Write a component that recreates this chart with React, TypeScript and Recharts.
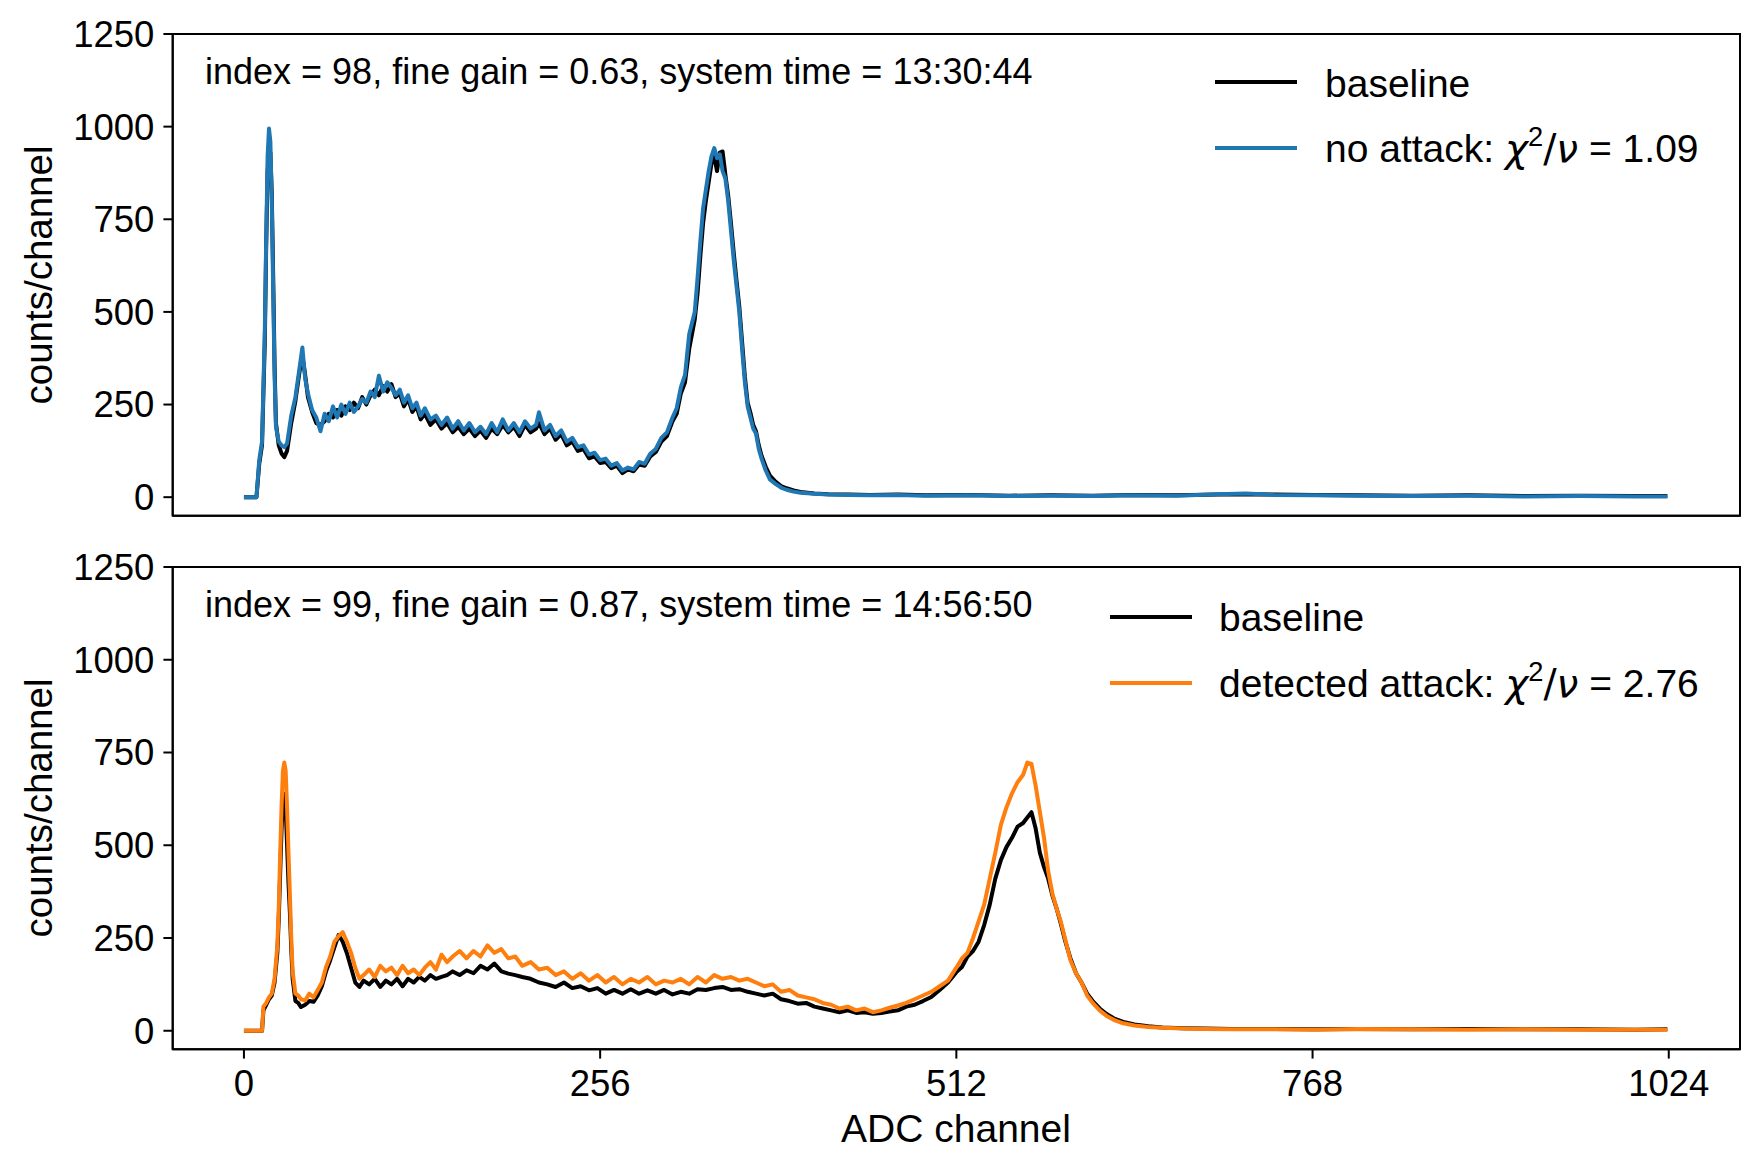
import { LineChart, Line, XAxis, YAxis, ReferenceArea } from 'recharts';

// channel positions (denser where the spectrum moves fast)
const TOP_CH = [
    0, 9, 11, 13, 15, 16, 17, 18, 19, 20,
    21, 22, 23, 25, 27, 29, 31, 34, 37, 40,
    42, 44, 46, 49, 52, 55, 58, 61, 64, 67,
    70, 73, 76, 79, 82, 85, 88, 91, 94, 97,
    100, 103, 106, 109, 112, 115, 118, 121, 124, 127,
    130, 134, 138, 142, 146, 150, 154, 158, 162, 166,
    170, 174, 178, 182, 186, 190, 194, 198, 202, 206,
    210, 212, 216, 220, 224, 228, 232, 236, 240, 244,
    248, 252, 256, 260, 264, 268, 272, 276, 280, 284,
    288, 292, 296, 300, 304, 308, 311, 314, 317, 320,
    322, 324, 326, 328, 330, 332, 334, 336, 338, 340,
    342, 344, 346, 348, 350, 352, 354, 356, 358, 360,
    362, 364, 366, 368, 370, 372, 375, 378, 382, 386,
    390, 395, 400, 410, 420, 435, 450, 470, 490, 520,
    550, 580, 610, 640, 670, 700, 720, 740, 770, 800,
    840, 880, 920, 960, 1000, 1023,
];

const TOP_BASELINE = [
    0, 0, 90, 140, 420, 680, 880, 925, 930, 820,
    600, 360, 200, 140, 118, 108, 125, 200, 260, 340,
    380, 330, 270, 230, 200, 195, 205, 225, 215, 235,
    220, 245, 235, 255, 240, 270, 250, 275, 290, 275,
    300, 285, 305, 270, 280, 245, 265, 230, 245, 210,
    225, 195, 210, 185, 200, 175, 190, 170, 185, 165,
    180, 160, 185, 170, 195, 175, 190, 165, 195, 175,
    185, 200, 170, 185, 155, 170, 140, 150, 125, 130,
    105, 110, 92, 95, 78, 85, 65, 75, 70, 88,
    85, 110, 122, 150, 165, 205, 225, 280, 310, 400,
    440, 480, 550, 650, 740, 800, 850, 900, 920, 880,
    930, 933, 870, 815, 740, 660, 585, 515, 420, 325,
    255, 228, 195, 178, 140, 112, 82, 58, 42, 30,
    24, 18, 14, 10, 8, 7, 6, 7, 5, 6,
    4, 5, 4, 6, 5, 7, 8, 7, 6, 5,
    4, 5, 3, 4, 3, 3,
];

const TOP_NO_ATTACK = [
    0, 0, 100, 150, 450, 700, 920, 995, 960, 800,
    560, 330, 190, 150, 140, 135, 145, 220, 270, 350,
    404, 320, 280, 235, 215, 178, 225, 205, 245, 215,
    250, 225, 255, 230, 245, 265, 255, 285, 270, 328,
    285, 310, 295, 275, 290, 255, 275, 240, 255, 220,
    240, 210, 220, 195, 215, 185, 205, 180, 200, 175,
    190, 170, 200, 175, 210, 180, 200, 175, 205, 185,
    195, 229, 180, 195, 165, 180, 150, 160, 135, 140,
    115, 120, 100, 104, 85, 92, 72, 80, 75, 95,
    90, 117, 130, 160, 175, 215, 240, 296, 330, 440,
    470, 500, 592, 690, 780, 830, 880, 920, 942, 915,
    925, 880, 860, 800, 720, 640, 570, 500, 400, 310,
    245, 215, 185, 172, 130, 104, 72, 48, 36, 26,
    20, 15, 12, 9, 7, 6, 5, 6, 4, 5,
    3, 4, 3, 5, 4, 8, 10, 6, 5, 4,
    3, 4, 2, 3, 2, 2,
];

const BOT_CH = [
    0, 13, 14, 16, 18, 20, 22, 24, 25, 26,
    27, 28, 29, 30, 31, 32, 33, 34, 35, 37,
    39, 41, 44, 47, 50, 53, 56, 59, 62, 65,
    68, 71, 74, 77, 80, 83, 86, 90, 94, 98,
    102, 106, 110, 114, 118, 122, 126, 130, 134, 138,
    142, 146, 150, 155, 160, 165, 170, 175, 180, 185,
    190, 195, 200, 206, 212, 218, 224, 230, 236, 242,
    248, 254, 260, 266, 272, 278, 284, 290, 296, 302,
    308, 314, 320, 326, 332, 338, 344, 350, 356, 362,
    368, 374, 380, 386, 392, 398, 404, 410, 416, 422,
    428, 434, 440, 446, 452, 458, 464, 470, 476, 482,
    488, 494, 500, 506, 512, 516, 520, 524, 528, 532,
    536, 540, 544, 548, 552, 556, 560, 563, 566, 569,
    572, 575, 578, 581, 584, 587, 590, 594, 598, 602,
    606, 610, 615, 620, 626, 632, 640, 650, 660, 675,
    690, 710, 740, 770, 800, 840, 880, 920, 960, 1000,
    1023,
];

const BOT_BASELINE = [
    0, 0, 55, 70, 85, 95, 130, 210, 300, 420,
    540, 620, 638, 600, 500, 400, 320, 220, 140, 80,
    75, 64, 70, 80, 78, 95, 120, 160, 190, 225,
    258, 240, 209, 170, 130, 118, 135, 125, 140, 118,
    135, 125, 140, 120, 140, 130, 145, 135, 150, 140,
    145, 150, 160, 150, 163, 155, 175, 165, 181, 160,
    154, 150, 145, 140, 130, 125, 118, 130, 115, 120,
    109, 115, 100, 110, 100, 112, 100, 109, 100, 110,
    98, 105, 100, 112, 110, 115, 118, 110, 112, 105,
    100, 95, 100, 85, 80, 73, 75, 65, 60, 55,
    50, 55, 48, 50, 46, 48, 52, 55, 65, 70,
    80, 91, 110, 130, 158, 172, 200, 215, 240, 285,
    340, 410, 460, 495, 520, 550, 560, 575, 589, 545,
    480, 441, 410, 365, 330, 290, 245, 195, 155, 130,
    100, 80, 60, 45, 32, 24, 17, 12, 9, 7,
    6, 5, 5, 4, 5, 4, 5, 4, 4, 3,
    4,
];

const BOT_ATTACK = [
    0, 0, 65, 75, 90, 100, 140, 230, 330, 470,
    600, 700, 723, 700, 600, 480, 370, 250, 160, 100,
    95, 85, 82, 100, 90, 110, 130, 172, 200, 240,
    255, 266, 240, 210, 170, 140, 150, 165, 145, 175,
    160, 170, 150, 175, 155, 165, 150, 170, 185, 165,
    205, 185, 200, 215, 195, 215, 200, 230, 210, 220,
    195, 200, 175, 185, 165, 170, 150, 160, 140, 155,
    135, 150, 130, 145, 125, 140, 130, 145, 125, 135,
    130, 140, 125, 145, 130, 150, 140, 145, 135, 140,
    130, 120, 125, 105, 110, 95, 90, 85, 75, 70,
    60, 65, 55, 60, 50, 55, 62, 68, 75, 85,
    95, 105, 120, 135, 170, 195, 210, 250, 295, 340,
    410, 480, 555, 602, 640, 670, 690, 723, 719, 660,
    590, 520, 430, 370, 330, 295, 250, 190, 155, 130,
    95, 75, 55, 40, 28, 20, 14, 10, 8, 6,
    5, 4, 4, 3, 5, 4, 3, 4, 3, 3,
    3,
];

const X_TICKS = [0, 256, 512, 768, 1024];
const Y_TICKS = [0, 250, 500, 750, 1000, 1250];
const X_DOMAIN = [-51.2, 1075.2];
const Y_DOMAIN = [-50, 1250];

const FONT = '"Liberation Sans", Arial, Helvetica, sans-serif';
const MATH = '"DejaVu Sans", sans-serif';
const LW = 4;

const topRows = TOP_CH.map((ch, i) => ({ ch, base: TOP_BASELINE[i], test: TOP_NO_ATTACK[i] }));
const botRows = BOT_CH.map((ch, i) => ({ ch, base: BOT_BASELINE[i], test: BOT_ATTACK[i] }));

const Chi = () => (
    <>
        <span style={{ fontFamily: MATH, fontStyle: 'italic' }}>χ</span>
        <span style={{ fontSize: '0.7em', position: 'relative', top: '-0.6em' }}>2</span>
        <span style={{ fontFamily: MATH }}>/</span>
        <span style={{ fontFamily: MATH, fontStyle: 'italic' }}>ν</span>
    </>
);

const Panel = ({ rows, top, height, marginTop, axisHeight, showXLabels, color }: any) => (
    <div style={{ position: 'absolute', left: 0, top }}>
        <LineChart width={1757} height={height} data={rows} margin={{ top: marginTop, right: 17, bottom: 0, left: 0 }}>
            <XAxis
                type="number"
                dataKey="ch"
                domain={X_DOMAIN}
                ticks={X_TICKS}
                interval={0}
                allowDataOverflow
                height={axisHeight}
                tickSize={9.3}
                tickMargin={11}
                axisLine={{ stroke: '#000', strokeWidth: 2 }}
                tickLine={{ stroke: '#000', strokeWidth: 2 }}
                tick={showXLabels ? { fill: '#000', fontSize: 36.5, fontFamily: FONT } : false}
            />
            <YAxis
                type="number"
                domain={Y_DOMAIN}
                ticks={Y_TICKS}
                interval={0}
                allowDataOverflow
                width={172.7}
                tickSize={9.3}
                tickMargin={9}
                axisLine={{ stroke: '#000', strokeWidth: 2 }}
                tickLine={{ stroke: '#000', strokeWidth: 2 }}
                tick={{ fill: '#000', fontSize: 36.5, fontFamily: FONT }}
            />
            <ReferenceArea x1={X_DOMAIN[0]} x2={X_DOMAIN[1]} y1={Y_DOMAIN[0]} y2={Y_DOMAIN[1]} fill="none" stroke="#000" strokeWidth={2} />
            <Line type="linear" dataKey="base" stroke="#000000" strokeWidth={LW} strokeLinejoin="round" dot={false} isAnimationActive={false} />
            <Line type="linear" dataKey="test" stroke={color} strokeWidth={LW} strokeLinejoin="round" dot={false} isAnimationActive={false} />
        </LineChart>
    </div>
);

const LegendRow = ({ x, y, textX, color, children }: any) => (
    <>
        <div style={{ position: 'absolute', left: x, top: y - LW / 2, width: 82, height: LW, background: color }} />
        <div style={{ position: 'absolute', left: textX, top: y - 18.6, fontSize: 39, lineHeight: 1, fontFamily: FONT, whiteSpace: 'nowrap' }}>
            {children}
        </div>
    </>
);

const Note = ({ top, children }: any) => (
    <div style={{ position: 'absolute', left: 205, top, fontSize: 36, lineHeight: 1, fontFamily: FONT, whiteSpace: 'nowrap' }}>
        {children}
    </div>
);

const YLabel = ({ cy }: any) => (
    <div style={{
        position: 'absolute', left: 39, top: cy, transform: 'translate(-50%, -50%) rotate(-90deg)',
        fontSize: 38.5, lineHeight: 1, fontFamily: FONT, whiteSpace: 'nowrap',
    }}>
        counts/channel
    </div>
);

export default function App() {
    return (
        <div style={{ position: 'absolute', left: 0, top: 0, width: 1757, height: 1172, background: '#fff', color: '#000', overflow: 'hidden' }}>
            <Panel rows={topRows} top={0} height={540} marginTop={34} axisHeight={24.3} showXLabels={false} color="#1f77b4" />
            <Panel rows={botRows} top={540} height={632} marginTop={27} axisHeight={122.7} showXLabels={true} color="#ff7f0e" />

            <Note top={53.5}>index = 98, fine gain = 0.63, system time = 13:30:44</Note>
            <Note top={586.5}>index = 99, fine gain = 0.87, system time = 14:56:50</Note>

            <LegendRow x={1215} y={82.3} textX={1325} color="#000">baseline</LegendRow>
            <LegendRow x={1215} y={148} textX={1325} color="#1f77b4">no attack: <Chi /> = 1.09</LegendRow>
            <LegendRow x={1110} y={617} textX={1219} color="#000">baseline</LegendRow>
            <LegendRow x={1110} y={682.7} textX={1219} color="#ff7f0e">detected attack: <Chi /> = 2.76</LegendRow>

            <YLabel cy={275} />
            <YLabel cy={808} />
            <div style={{ position: 'absolute', left: 956, top: 1109, transform: 'translateX(-50%)', fontSize: 39, lineHeight: 1, fontFamily: FONT, whiteSpace: 'nowrap' }}>
                ADC channel
            </div>
        </div>
    );
}
